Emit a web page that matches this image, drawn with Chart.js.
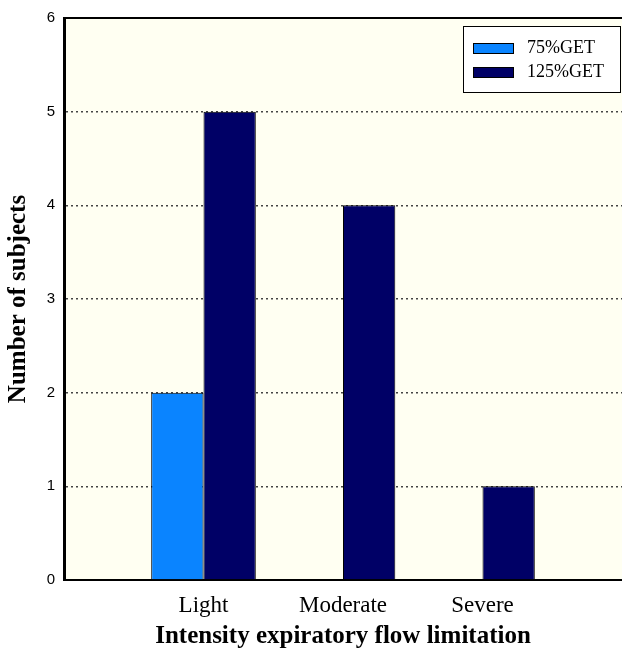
<!DOCTYPE html>
<html><head><meta charset="utf-8">
<script src="https://cdn.jsdelivr.net/npm/chart.js@4/dist/chart.umd.min.js"></script>
<style>html,body{margin:0;padding:0;background:#fff}#wrap{width:622px;height:653px;position:relative}</style>
</head><body><div id="wrap"><canvas id="c" width="622" height="653"></canvas></div>
<script>
const categories = ['Light', 'Moderate', 'Severe'];
const seriesNames = ['75%GET', '125%GET'];
const values75 = [2, 0, 0];
const values125 = [5, 4, 1];
const yTicks = [0, 1, 2, 3, 4, 5, 6];
const colors = ['#0A84FF', '#000066'];

const labels = [''].concat(categories, ['']);
const pad = arr => [null].concat(arr, [null]);

const bgPlugin = {
  id: 'bg',
  beforeDraw(chart) {
    const a = chart.chartArea, ctx = chart.ctx;
    ctx.save();
    ctx.fillStyle = '#FFFFF2';
    ctx.fillRect(a.left, a.top, a.right - a.left, a.bottom - a.top);
    ctx.restore();
  },
  afterDraw(chart) {
    const a = chart.chartArea, ctx = chart.ctx;
    ctx.save();
    ctx.strokeStyle = '#000'; ctx.lineWidth = 2;
    ctx.beginPath(); ctx.moveTo(a.left, a.top); ctx.lineTo(a.right, a.top); ctx.stroke();
    // legend box
    const bx = 463, by = 26, bw = 157, bh = 66;
    ctx.fillStyle = '#fff'; ctx.fillRect(bx, by, bw, bh);
    ctx.lineWidth = 1; ctx.strokeStyle = '#000'; ctx.strokeRect(bx + 0.5, by + 0.5, bw, bh);
    ctx.font = '18px "Liberation Serif", "Times New Roman", serif';
    ctx.textBaseline = 'middle';
    chart.data.datasets.forEach((ds, i) => {
      const y = 43 + i * 24;
      ctx.fillStyle = ds.backgroundColor;
      ctx.fillRect(473, y, 40, 10);
      ctx.strokeRect(473.5, y + 0.5, 40, 10);
      ctx.fillStyle = '#000';
      ctx.fillText(ds.label, 527, y + 5);
    });
    ctx.restore();
  }
};

new Chart(document.getElementById('c'), {
  type: 'bar',
  data: {
    labels: labels,
    datasets: [
      { label: seriesNames[0], data: pad(values75), backgroundColor: colors[0], borderColor: '#000', borderWidth: 1, borderSkipped: 'bottom' },
      { label: seriesNames[1], data: pad(values125), backgroundColor: colors[1], borderColor: '#000', borderWidth: 1, borderSkipped: 'bottom' }
    ]
  },
  options: {
    responsive: false,
    animation: false,
    events: [],
    layout: { padding: { top: 18, right: 0, left: 0, bottom: 0 } },
    categoryPercentage: 0.75,
    barPercentage: 1.0,
    plugins: { legend: { display: false }, tooltip: { enabled: false } },
    scales: {
      x: {
        offset: false,
        grid: { display: false, drawTicks: false },
        border: { display: true, color: '#000', width: 2 },
        ticks: { color: '#000', padding: 12, autoSkip: false, maxRotation: 0,
          font: { family: '"Liberation Serif", "Times New Roman", serif', size: 23 } },
        title: { display: true, text: 'Intensity expiratory flow limitation', color: '#000',
          font: { family: '"Liberation Serif", "Times New Roman", serif', size: 25, weight: 'bold' },
          padding: { top: 0, bottom: 1 } },
        afterFit(s) { s.height = 73; s.paddingLeft = 0; s.paddingRight = 0; }
      },
      y: {
        min: 0, max: 6,
        afterBuildTicks(s) { s.ticks = yTicks.map(v => ({ value: v })); },
        grid: {
          drawTicks: false,
          color: ctx => (ctx.tick && (ctx.tick.value === 0 || ctx.tick.value === 6)) ? 'rgba(0,0,0,0)' : '#444',
          lineWidth: 1.5
        },
        border: { display: true, color: '#000', width: 3, dash: [2, 3] },
        ticks: { color: '#000', padding: 9, font: { family: 'Arial, "Liberation Sans", sans-serif', size: 15 } },
        title: { display: true, text: 'Number of subjects', color: '#000',
          font: { family: '"Liberation Serif", "Times New Roman", serif', size: 25, weight: 'bold' },
          padding: { top: 4, bottom: 0 } },
        afterFit(s) { s.width = 64; }
      }
    }
  },
  plugins: [bgPlugin]
});
</script></body></html>
